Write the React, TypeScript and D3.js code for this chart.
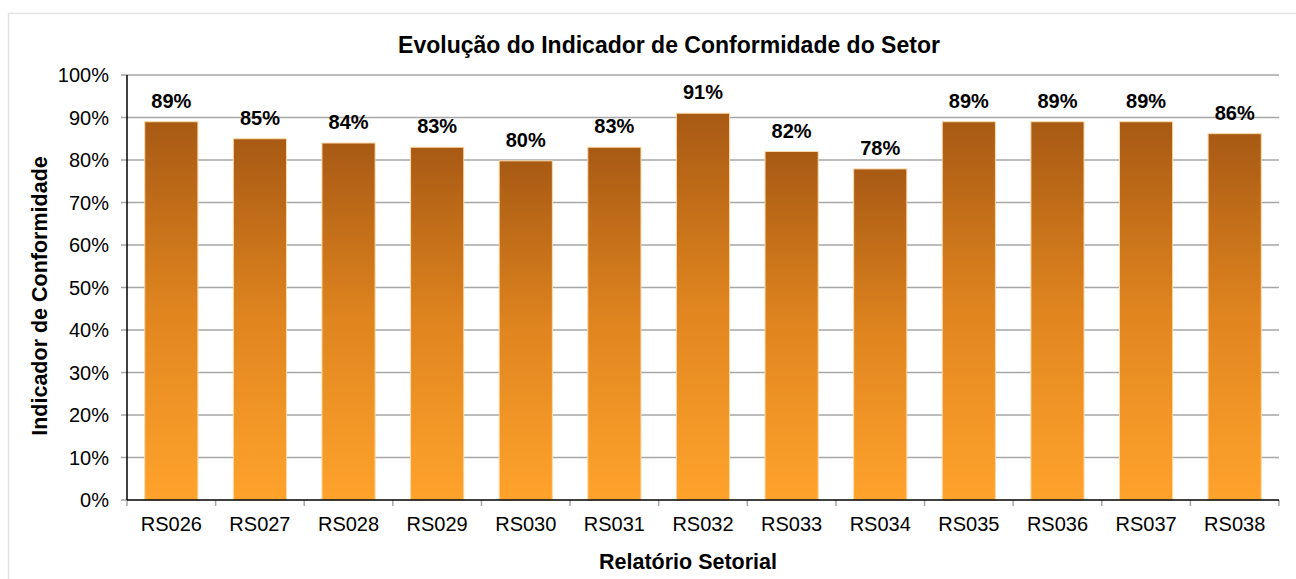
import * as d3 from "d3";

const categories = ["RS026", "RS027", "RS028", "RS029", "RS030", "RS031", "RS032", "RS033", "RS034", "RS035", "RS036", "RS037", "RS038"];
const values = [0.89, 0.85, 0.84, 0.83, 0.798, 0.83, 0.91, 0.82, 0.779, 0.89, 0.89, 0.89, 0.862];
const yTicks = [0, 0.1, 0.2, 0.3, 0.4, 0.5, 0.6, 0.7, 0.8, 0.9, 1];

const W = 1296;
const H = 579;
const margin = { top: 75, right: 17, bottom: 79, left: 127 };
const font = "'Liberation Sans', Arial, sans-serif";

export default function App() {
  const innerW = W - margin.left - margin.right;
  const innerH = H - margin.top - margin.bottom;

  const x = d3.scaleBand().domain(categories).range([0, innerW]).paddingInner(0.4).paddingOuter(0.2);
  const xBand = d3.scaleBand().domain(categories).range([0, innerW]);
  const y = d3.scaleLinear().domain([0, 1]).range([innerH, 0]);
  const pct = d3.format(".0%");

  return (
    <svg width={W} height={H} style={{ position: "absolute", left: 0, top: 0, background: "#fff" }} fontFamily={font}>
      <defs>
        <linearGradient id="barGrad" x1="0" y1="0" x2="0" y2="1">
          <stop offset="0%" stopColor="#A85A14" />
          <stop offset="50%" stopColor="#E0851F" />
          <stop offset="100%" stopColor="#FFA32C" />
        </linearGradient>
      </defs>
      <rect x={8.5} y={13.5} width={W} height={H} fill="none" stroke="#e3e3e3" strokeWidth={1.5} />

      <text x={669} y={53} textAnchor="middle" fontSize={23} fontWeight="bold" fill="#000">
        Evolução do Indicador de Conformidade do Setor
      </text>

      <g transform={`translate(${margin.left},${margin.top})`}>
        {/* grid */}
        {yTicks.map((t) => (
          <g key={t}>
            {t > 0 && <line x1={0} x2={innerW} y1={y(t)} y2={y(t)} stroke="#a6a6a6" strokeWidth={1.5} />}
            <line x1={-6} x2={0} y1={y(t)} y2={y(t)} stroke="#a6a6a6" strokeWidth={1.5} />
            <text x={-18} y={y(t)} dy="0.35em" textAnchor="end" fontSize={20} fill="#000">
              {pct(t)}
            </text>
          </g>
        ))}

        {/* bars */}
        {categories.map((c, i) => (
          <g key={c}>
            <rect
              x={x(c)}
              y={y(values[i])}
              width={x.bandwidth()}
              height={innerH - y(values[i])}
              fill="url(#barGrad)"
              stroke="#FCD9A6"
              strokeWidth={1}
            />
            <text x={(x(c) ?? 0) + x.bandwidth() / 2} y={y(values[i]) - 14} textAnchor="middle" fontSize={20} fontWeight="bold" fill="#000">
              {pct(values[i])}
            </text>
            <text x={(xBand(c) ?? 0) + xBand.bandwidth() / 2} y={531 - margin.top} textAnchor="middle" fontSize={20} fill="#000">
              {c}
            </text>
          </g>
        ))}

        {/* category ticks */}
        {[...categories.map((c) => xBand(c) ?? 0), innerW].map((px, i) => (
          <line key={i} x1={px} x2={px} y1={innerH} y2={innerH + 6} stroke="#a6a6a6" strokeWidth={1.5} />
        ))}

        {/* axes */}
        <line x1={0} x2={0} y1={0} y2={innerH} stroke="#000" strokeWidth={1.5} />
        <line x1={0} x2={innerW} y1={innerH} y2={innerH} stroke="#000" strokeWidth={1.5} />
      </g>

      <text x={688} y={569} textAnchor="middle" fontSize={21.5} fontWeight="bold" fill="#000">
        Relatório Setorial
      </text>
      <text transform="translate(47,296) rotate(-90)" textAnchor="middle" fontSize={21.5} fontWeight="bold" fill="#000">
        Indicador de Conformidade
      </text>
    </svg>
  );
}
